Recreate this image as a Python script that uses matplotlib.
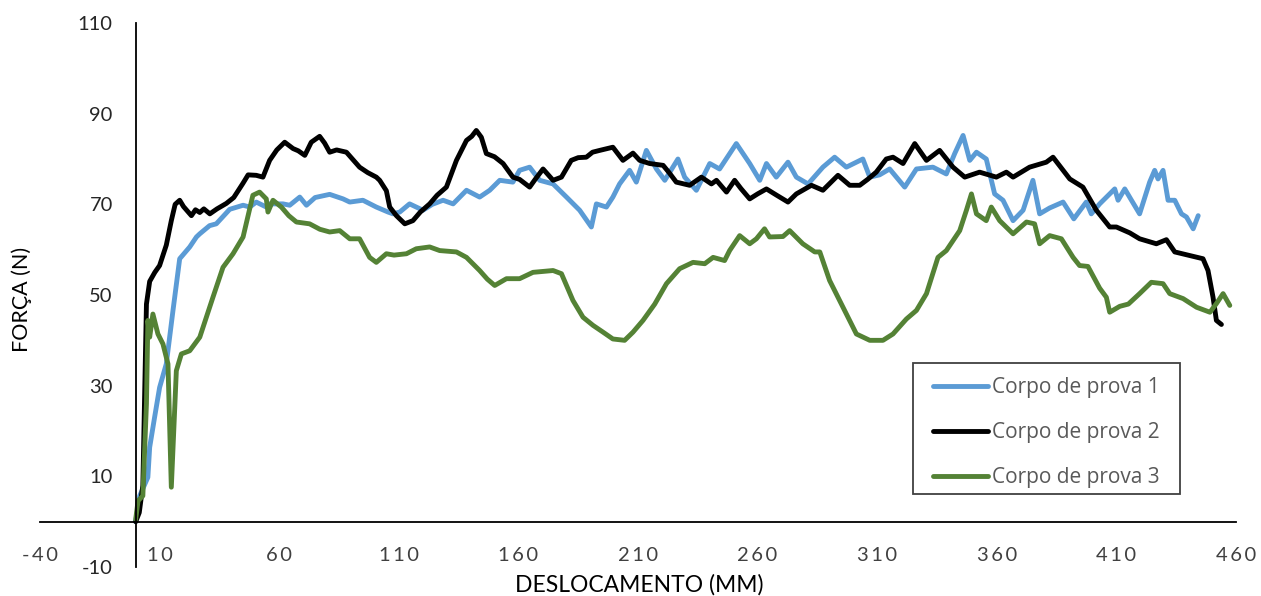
import matplotlib
matplotlib.use("Agg")
import matplotlib.pyplot as plt
from matplotlib.patches import Rectangle

# ---- data ----
x1 = [0, 1.7, 5.1, 5.85, 7.9, 10, 12.8, 15.6, 18.4, 22.6, 25.4, 26.8, 30.9, 33.7, 39.3, 44.9, 47.7,
      50.4, 54.6, 56, 61.6, 64.4, 68.6, 71.4, 75, 81.1, 86.7, 89.5, 95, 100.6, 105.5, 107.6, 110.4,
      114.5, 120.1, 124, 128.5, 132.7, 138.3, 143.8, 148, 152.2, 157.7, 160.5, 164.7, 168.9, 174.5,
      180.1, 185.6, 190.5, 192.6, 196.8, 199.5, 202.3, 206.5, 209.3, 213.5, 217.7, 221.2, 226.7,
      229.5, 234.4, 240, 244.1, 251.1, 256.7, 260.9, 263.7, 267.8, 272.7, 276.2, 281.1, 287.3,
      292.2, 297.1, 304, 306.9, 311, 315.2, 321.5, 326.4, 333.3, 338.9, 342.4, 345.9, 348.7, 351.5,
      355.6, 359.1, 362.6, 366.8, 371, 375.1, 377.9, 382.1, 387.7, 392.2, 397.4, 399.5, 403, 407.2,
      409.3, 410.7, 413.5, 416.3, 419.7, 423.9, 426, 427.4, 429.5, 431.6, 434.4, 437.2, 439.3,
      442.1, 444.2]
y1 = [0, 5.7, 9.8, 16.4, 23, 29.6, 34.8, 46.6, 58, 60.6, 62.8, 63.5, 65.3, 65.7, 68.9, 69.8, 69.4,
      70.5, 69.4, 70.1, 70.1, 69.8, 71.6, 69.8, 71.5, 72.2, 71.2, 70.5, 70.9, 69.4, 68.3, 67.9, 68.3,
      70.1, 68.7, 70, 70.9, 70.1, 73.1, 71.6, 73.1, 75.3, 74.9, 77.5, 78.2, 75.3, 74.5,
      71.6, 68.7, 65, 70.1, 69.4, 71.6, 74.5, 77.5, 74.9, 81.9, 77.8, 75.3, 80,
      76, 73.1, 79, 77.8, 83.4, 79, 75.3, 79, 76, 79.3, 76, 74.5, 78.2,
      80.4, 78.2, 80, 76, 76.5, 77.8, 73.8, 77.8, 78.2, 76.7, 81.2, 85.2, 79.7, 81.5,
      80, 72.3, 70.9, 66.4, 68.7, 75.3, 67.9, 69.2, 70.5, 66.8, 70.5, 67.9, 70.1, 72.3,
      73.4, 70.9, 73.4, 70.9, 67.9, 74.9, 77.5, 75.6, 77.5, 70.9, 70.9, 67.9, 67.2,
      64.6, 67.5]

x2 = [0, 1.5, 3, 4.5, 5.85, 8, 10, 12.8, 14.9, 16.5, 18.4, 20, 23.3, 25, 26.8, 28.5, 31, 34, 37.9,
      41, 44.8, 47, 50.4, 53.2, 56, 59, 62.3, 65.8, 68, 70.7, 73.4, 76.9, 79, 81.1, 84, 88.1, 93.6,
      97, 100.6, 102, 104.8, 106.2, 109, 112.5, 115.9, 119, 122.9, 126, 129.9, 134.1, 138.3, 140.5,
      142.4, 144.5, 146.6, 150, 153.6, 157.7, 160.5, 164.7, 167, 170.3, 174.5, 178, 182.1, 185,
      188.4, 191, 194, 199.5, 203.7, 207.9, 210.7, 214.9, 220.5, 223, 226, 231.6, 236.5, 240.7,
      242.8, 247, 250.4, 253, 256.7, 260, 263.7, 268, 272.7, 276.2, 282.5, 287.3, 293.6, 298.5,
      302.7, 306, 309.6, 313.8, 316.6, 320.8, 325.7, 330.6, 336.1, 341.7, 346.6, 352.8, 359.8, 364,
      366.8, 373.7, 380.7, 383.5, 387.7, 390.5, 396, 401.6, 407.2, 410, 415.6, 419.7, 426.7, 430.9,
      434.4, 440.6, 446.2, 448.3, 450.4, 451.8, 453.9]
y2 = [0, 2, 8, 48, 53, 55, 56.5, 61, 66.4, 70, 70.9, 69.5, 67.5, 68.8, 68.2, 69, 67.9, 69, 70.2,
      71.5, 74.6, 76.5, 76.4, 76, 79.7, 82, 83.7, 82.3, 81.8, 80.8, 83.7, 85, 83.5, 81.5, 82, 81.5, 78.2,
      77, 76, 75.3, 73, 69.4, 67.5, 65.7, 66.4, 68.3, 70.1, 72, 73.8, 79.7, 84.1, 85,
      86.3, 84.8, 81.2, 80.5, 79, 76, 75.5, 73.8, 75.5, 77.8, 75.3, 76, 79.7, 80.3,
      80.4, 81.5, 81.9, 82.6, 79.7, 81.3, 79.7, 79, 78.6, 77, 74.9, 74.2, 76, 74.5,
      75.3, 72.7, 75.3, 73.5, 71.2, 72.3, 73.4, 72, 70.5, 72.3, 74.2, 73.1, 76.4, 74.2,
      74.2, 75.5, 77.1, 80, 80.4, 79, 83.4, 79.7, 81.9, 78.2, 76, 77.1, 76, 77.1,
      76, 78.2, 79.3, 80.4, 77.5, 75.6, 73.8, 68.7, 65, 65, 63.7, 62.4, 61.3, 62.2,
      59.5, 58.7, 58, 55.4, 49.5, 44.4, 43.5]

x3 = [0, 1, 3, 4.5, 5.1, 5.85, 7.2, 9.3, 11.4, 13.5, 14.9, 17, 19.1, 22.6, 26.8, 32.3, 36.5, 40.7,
      44.9, 49, 51.8, 54.6, 55.3, 57.4, 60.9, 64, 67.2, 72.7, 77, 81.1, 85.3, 89.5, 93.6, 97.8, 100.6,
      104.8, 108, 113.2, 117.3, 122.9, 127.1, 134.1, 138.3, 143.8, 147, 150.1, 155, 160.5, 166.1,
      174.5, 178, 182.8, 187, 191.2, 195.4, 199.5, 204.4, 207.9, 212.1, 217, 221.9, 227.4, 233,
      237.9, 241.4, 246.2, 248.3, 252.5, 256.7, 259.5, 262.9, 265, 270.6, 273.4, 278.9, 283.9, 286,
      290.1, 295.7, 301.3, 306.9, 312.4, 316.6, 322.2, 326.4, 330.6, 335.4, 338.9, 344.5, 347.3,
      349.4, 351.5, 355.6, 357.7, 361.2, 366.8, 372.4, 375.8, 377.9, 382.1, 387, 391.9, 394.6, 398.1,
      403, 405.8, 407.2, 411.4, 415, 419.7, 424.6, 429.5, 432.3, 437.9, 443.5, 449.1, 451.8, 454.6,
      457.4]
y3 = [0.5, 4.6, 5.7, 26, 44.4, 40.7, 45.8, 41.4, 39.2, 34.8, 7.6, 33.3, 37, 37.7, 40.7, 49.5, 56.1, 59.1,
      62.8, 72, 72.7, 71.2, 68.3, 70.9, 69.4, 67.5, 66.1, 65.7, 64.5, 63.9, 64.2, 62.4, 62.4, 58.3, 57.2,
      59.1, 58.8, 59.1, 60.2, 60.6, 59.8, 59.5, 58.3, 55.4, 53.5, 52.1, 53.6, 53.6, 55,
      55.4, 54.7, 48.8, 45.1, 43.3, 41.8, 40.3, 40, 41.8, 44.4, 48, 52.5, 55.8, 57.2,
      56.9, 58.3, 57.6, 59.8, 63.1, 61.3, 62.4, 64.6, 62.8, 62.9, 64.2, 61.3, 59.5, 59.5,
      53.2, 47.3, 41.4, 40, 40, 41.4, 44.7, 46.6, 50.3, 58.3, 59.8, 64.2, 68.7,
      72.3, 67.9, 66.4, 69.4, 66.4, 63.5, 66.1, 65.7, 61.3, 63.1, 62.4, 58.3, 56.5, 56.3,
      51.5, 49.5, 46.2, 47.5, 48, 50.3, 52.8, 52.5, 50.3, 49.2, 47.3, 46.2, 48.1, 50.3,
      47.7]

labels = ["Corpo de prova 1", "Corpo de prova 2", "Corpo de prova 3"]
colors = ["#5B9BD5", "#000000", "#548235"]
x_ticks = [-40, 10, 60, 110, 160, 210, 260, 310, 360, 410, 460]
y_ticks = [-10, 10, 30, 50, 70, 90, 110]
x_title = "DESLOCAMENTO (MM)"
y_title = "FORÇA (N)"

# ---- figure ----
W, H = 1261, 596
fig = plt.figure(figsize=(W / 100, H / 100), dpi=100)
plt.rcParams['font.family'] = ['Lato', 'DejaVu Sans']

left, right, top, bottom = 40, 1236, 23, 567
ax = fig.add_axes([left / W, (H - bottom) / H, (right - left) / W, (bottom - top) / H])

for xs, ys, c, lab in zip([x1, x2, x3], [y1, y2, y3], colors, labels):
    ax.plot(xs, ys, color=c, lw=3.5, label=lab, solid_joinstyle='round', solid_capstyle='round')

ax.set_xlim(-40, 460)
ax.set_ylim(-10, 110)

for s in ['top', 'right']:
    ax.spines[s].set_visible(False)
ax.spines['left'].set_position(('data', 0))
ax.spines['bottom'].set_position(('data', 0))
for s in ['left', 'bottom']:
    ax.spines[s].set_color('#000000')
    ax.spines[s].set_linewidth(1.3)

ax.set_xticks(x_ticks)
ax.set_xticklabels(["\u2009".join(str(v)) for v in x_ticks])
ax.set_yticks(y_ticks)
ax.set_yticklabels([str(v) for v in y_ticks])
ax.tick_params(axis='x', length=0, pad=18, labelsize=14.5, labelcolor='#404040')
ax.tick_params(axis='y', length=0, pad=16.5, labelsize=14.5, labelcolor='#262626')

fig.text(22 / W, 1 - 299 / H, y_title, rotation=90, ha='center', va='center',
         fontsize=15.5, color='#000000')
fig.text(639 / W, 1 - 585 / H, x_title, ha='center', va='center',
         fontsize=16.5, color='#000000')

# legend frame drawn separately for exact padding
frame = Rectangle((913 / W, 1 - 494 / H), (1180 - 913) / W, (494 - 363) / H,
                  transform=fig.transFigure, facecolor='white',
                  edgecolor='#404040', linewidth=1.3, zorder=5, clip_on=False)
ax.add_patch(frame)
leg = ax.legend(loc='upper left', bbox_to_anchor=(933 / W, 1 - 377 / H),
                bbox_transform=fig.transFigure, frameon=False,
                prop={'family': ['Open Sans', 'DejaVu Sans'], 'size': 15},
                handlelength=2.64, handletextpad=0.2, labelspacing=1.15,
                borderpad=0, borderaxespad=0)
leg.set_zorder(6)
for t in leg.get_texts():
    t.set_color('#595959')

fig.savefig("out.png", dpi=100)
